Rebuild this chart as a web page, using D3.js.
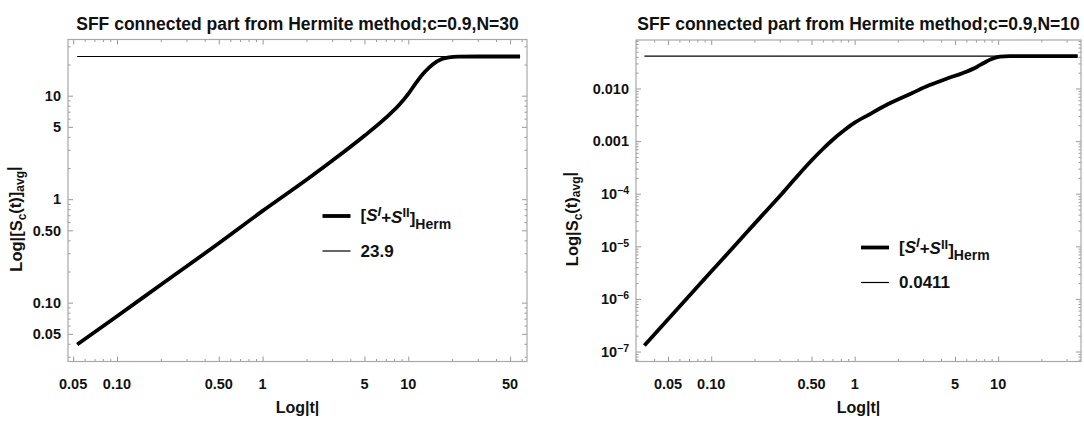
<!DOCTYPE html>
<html>
<head>
<meta charset="utf-8">
<script src="https://cdn.jsdelivr.net/npm/d3@7"></script>
<style>
  body { margin: 0; background: #fff; }
  svg text { font-family: "Liberation Sans", Arial, sans-serif; font-weight: bold; fill: #111; }
</style>
</head>
<body>
<svg id="chart" width="1084" height="421"></svg>
<script>
// values
const tLeft = [0.0533, 0.1, 0.2, 0.5, 1, 2, 3, 5, 7, 8.7, 10, 11.3, 13, 14.7, 17, 19, 22, 30, 58.5];
const sLeft = [0.0394, 0.074, 0.149, 0.375, 0.77, 1.54, 2.35, 4.1, 6.1, 8.2, 10.4, 13.3, 17.0, 20.0, 22.6, 23.5, 23.85, 23.9, 23.9];
const plateauLeft = 23.9;

const tRight = [0.0342, 0.06, 0.1, 0.15, 0.22, 0.3, 0.4, 0.5, 0.6, 0.7, 0.85, 1.0, 1.25, 1.7, 2.5, 3.3, 4.5, 6.0, 7.1, 8.0, 9.0, 10.3, 12, 35.8];
const sRight = [1.30e-7, 7.08e-7, 3.31e-6, 1.12e-5, 3.55e-5, 8.91e-5, 2.19e-4, 4.27e-4, 7.08e-4, 1.05e-3, 1.62e-3, 2.24e-3, 3.16e-3, 5.01e-3, 8.13e-3, 0.0115, 0.0158, 0.0209, 0.0257, 0.0309, 0.0363, 0.0403, 0.0411, 0.0411];
const plateauRight = 0.0411;

const xTicksLeft = [0.05, 0.1, 0.5, 1, 5, 10, 50];
const xTickLabelsLeft = ["0.05", "0.10", "0.50", "1", "5", "10", "50"];
const yTicksLeft = [0.05, 0.1, 0.5, 1, 5, 10];
const yTickLabelsLeft = ["0.05", "0.10", "0.50", "1", "5", "10"];

const xTicksRight = [0.05, 0.1, 0.5, 1, 5, 10];
const xTickLabelsRight = ["0.05", "0.10", "0.50", "1", "5", "10"];
const yTicksRight = [0.01, 0.001, 1e-4, 1e-5, 1e-6, 1e-7];
const yTickLabelsRight = ["0.010", "0.001", "10|−4", "10|−5", "10|−6", "10|−7"];

const svg = d3.select("#chart");

function minorTicks(lo, hi, majors) {
  const out = [];
  for (let e = Math.floor(Math.log10(lo)) - 1; e <= Math.ceil(Math.log10(hi)); e++) {
    for (let m = 1; m <= 9; m++) {
      const v = m * Math.pow(10, e);
      if (v >= lo && v <= hi && !majors.some(t => Math.abs(t - v) / v < 1e-6)) out.push(v);
    }
  }
  return out;
}

function drawPanel(p) {
  const x = d3.scaleLog().domain(p.xDomain).range([p.left, p.right]);
  const y = d3.scaleLog().domain(p.yDomain).range([p.bottom, p.top]);
  const g = svg.append("g");

  // minor + major inward ticks on all four sides
  const xMinor = minorTicks(p.xDomain[0], p.xDomain[1], p.xTicks);
  const yMinor = minorTicks(p.yDomain[0], p.yDomain[1], p.yTicks);
  const axes = [
    [d3.axisBottom(x), `translate(0,${p.bottom})`, xMinor, p.xTicks],
    [d3.axisTop(x), `translate(0,${p.top})`, xMinor, p.xTicks],
    [d3.axisLeft(y), `translate(${p.left},0)`, yMinor, p.yTicks],
    [d3.axisRight(y), `translate(${p.right},0)`, yMinor, p.yTicks]
  ];
  axes.forEach(([ax, tr, minor, major]) => {
    g.append("g").attr("transform", tr)
      .call(ax.tickValues(minor).tickSize(-2.5).tickFormat(""))
      .call(s => s.select(".domain").remove())
      .selectAll("line").attr("stroke", "#999");
    g.append("g").attr("transform", tr)
      .call(ax.tickValues(major).tickSize(-5).tickFormat(""))
      .call(s => s.select(".domain").remove())
      .selectAll("line").attr("stroke", "#999");
  });

  g.append("rect")
    .attr("x", p.left).attr("y", p.top)
    .attr("width", p.right - p.left).attr("height", p.bottom - p.top)
    .attr("fill", "none").attr("stroke", "#a8a8a8").attr("stroke-width", 1.2);

  // tick labels
  g.selectAll(".xl").data(p.xTicks).join("text")
    .attr("x", d => x(d)).attr("y", p.bottom + 27)
    .attr("text-anchor", "middle").style("font-size", "14.5px")
    .text((d, i) => p.xLabels[i]);

  const yl = g.selectAll(".yl").data(p.yTicks).join("text")
    .attr("x", p.left - 7).attr("y", d => y(d)).attr("dy", "0.36em")
    .attr("text-anchor", "end").style("font-size", "14.5px");
  yl.each(function(d, i) {
    const parts = p.yLabels[i].split("|");
    const t = d3.select(this);
    t.append("tspan").text(parts[0]);
    if (parts[1]) t.append("tspan").attr("dy", "-0.45em").style("font-size", "10.5px").text(parts[1]);
  });

  // title
  g.append("text").attr("x", (p.left + p.right) / 2).attr("y", 30)
    .attr("text-anchor", "middle").style("font-size", "17.5px").text(p.title);

  // axis titles
  g.append("text").attr("x", (p.left + p.right) / 2).attr("y", 413)
    .attr("text-anchor", "middle").style("font-size", "16px").text("Log|t|");

  const yt = g.append("text")
    .attr("transform", `translate(${p.yTitleX},${p.yTitleY}) rotate(-90)`)
    .attr("text-anchor", "middle").style("font-size", "16.5px");
  p.yTitle.forEach(([txt, kind]) => {
    const ts = yt.append("tspan").text(txt);
    if (kind === "sub") ts.attr("dy", "0.3em").style("font-size", "12px");
    if (kind === "back") ts.attr("dy", "-0.3em");
  });

  // plateau line and curve
  const line = d3.line().x(d => x(d[0])).y(d => y(d[1])).curve(d3.curveMonotoneX);
  const tData = p.t;
  g.append("path")
    .datum([[tData[0], p.plateau], [tData[tData.length - 1], p.plateau]])
    .attr("d", line).attr("fill", "none").attr("stroke", "#000").attr("stroke-width", 1.2);
  g.append("path")
    .datum(tData.map((t, i) => [t, p.s[i]]))
    .attr("d", line).attr("fill", "none").attr("stroke", "#000")
    .attr("stroke-width", 3.8).attr("stroke-linejoin", "round");

  // legend
  const lg = g.append("g").attr("transform", `translate(${p.legX},${p.legY})`);
  lg.append("line").attr("x1", 0).attr("x2", 28).attr("y1", 0).attr("y2", 0)
    .attr("stroke", "#000").attr("stroke-width", 3.8);
  lg.append("line").attr("x1", 0).attr("x2", 28).attr("y1", 35).attr("y2", 35)
    .attr("stroke", "#000").attr("stroke-width", 1.2);
  const lt = lg.append("text").attr("x", 38).attr("y", 0).attr("dy", "0.3em").style("font-size", "17px");
  lt.append("tspan").text("[");
  lt.append("tspan").style("font-style", "italic").text("S");
  lt.append("tspan").attr("dy", "-0.42em").style("font-size", "13px").style("font-style", "italic").text("I");
  lt.append("tspan").attr("dy", "0.42em").text("+");
  lt.append("tspan").style("font-style", "italic").text("S");
  lt.append("tspan").attr("dy", "-0.42em").style("font-size", "13px").text("II");
  lt.append("tspan").attr("dy", "0.42em").text("]");
  lt.append("tspan").attr("dy", "0.3em").style("font-size", "14px").text("Herm");
  lg.append("text").attr("x", 38).attr("y", 35).attr("dy", "0.35em").style("font-size", "17px")
    .text(p.plateauLabel);
}

drawPanel({
  left: 68, right: 527, top: 39.5, bottom: 361.5,
  xDomain: [0.0461, 65.3], yDomain: [0.027, 34.9],
  xTicks: xTicksLeft, xLabels: xTickLabelsLeft,
  yTicks: yTicksLeft, yLabels: yTickLabelsLeft,
  t: tLeft, s: sLeft, plateau: plateauLeft, plateauLabel: "23.9",
  title: "SFF connected part from Hermite method;c=0.9,N=30",
  yTitleX: 22, yTitleY: 219,
  yTitle: [["Log|[S", ""], ["c", "sub"], ["(t)]", "back"], ["avg", "sub"], ["|", "back"]],
  legX: 322.5, legY: 216
});

drawPanel({
  left: 636, right: 1081, top: 40, bottom: 361.5,
  xDomain: [0.0299, 37.8], yDomain: [6.46e-8, 0.0836],
  xTicks: xTicksRight, xLabels: xTickLabelsRight,
  yTicks: yTicksRight, yLabels: yTickLabelsRight,
  t: tRight, s: sRight, plateau: plateauRight, plateauLabel: "0.0411",
  title: "SFF connected part from Hermite method;c=0.9,N=10",
  yTitleX: 578, yTitleY: 219,
  yTitle: [["Log|S", ""], ["c", "sub"], ["(t)", "back"], ["avg", "sub"], ["|", "back"]],
  legX: 861, legY: 247.5
});
</script>
</body>
</html>
